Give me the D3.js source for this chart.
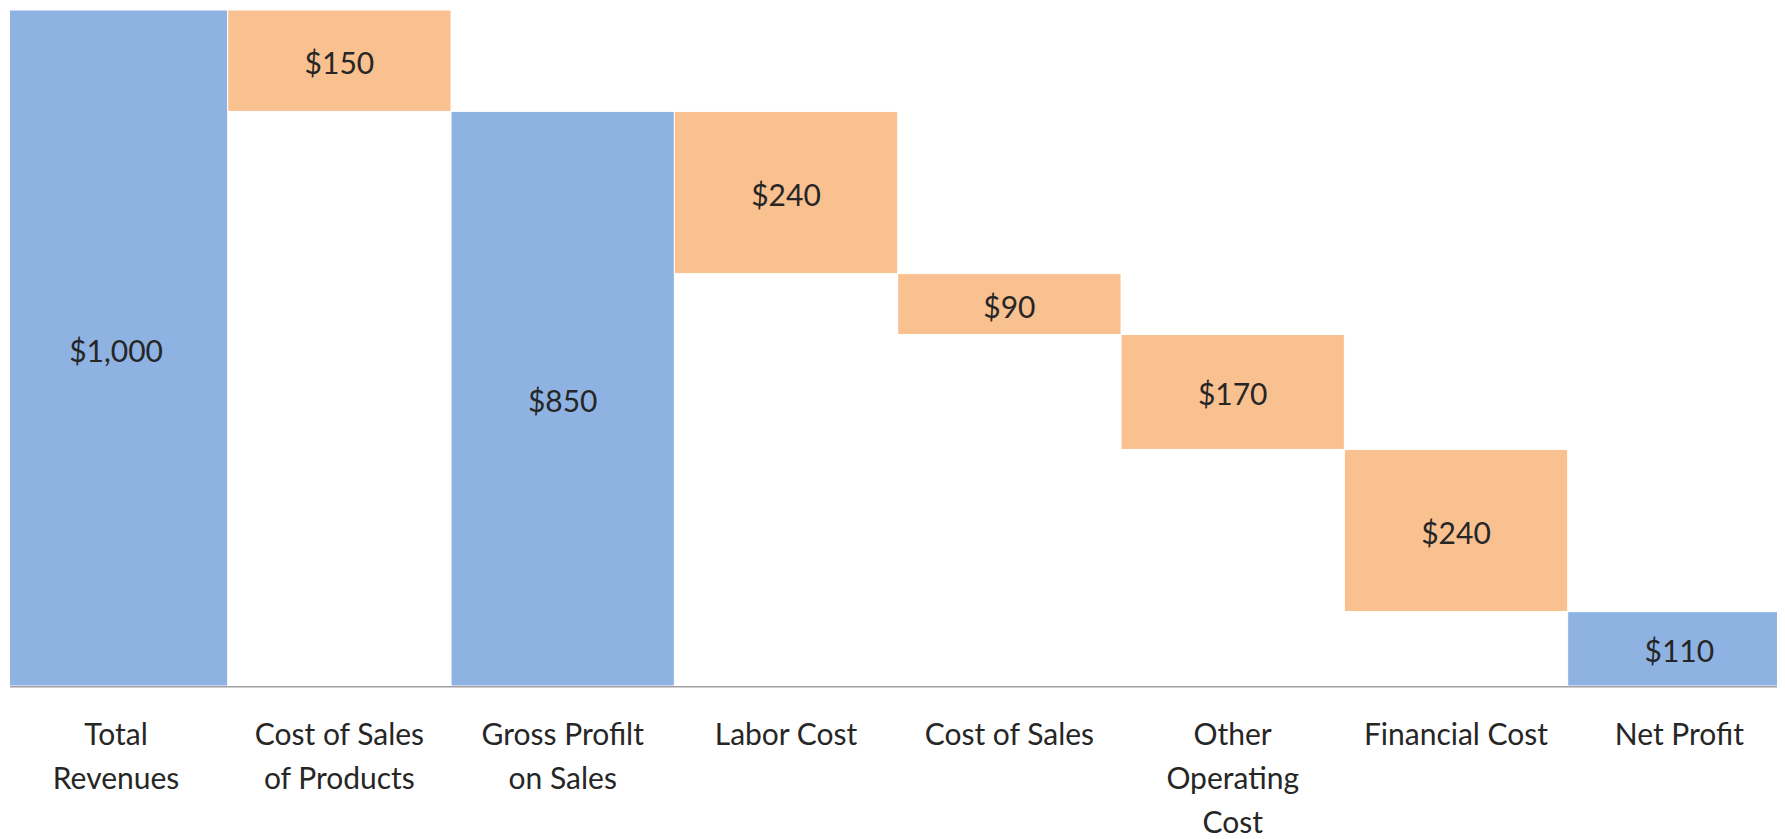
<!DOCTYPE html>
<html>
<head>
<meta charset="utf-8">
<script src="https://cdn.jsdelivr.net/npm/d3@7"></script>
<style>
  body { margin: 0; background: #fff; }
  svg text { font-family: Lato, "Open Sans", sans-serif; fill: #262626; }
</style>
</head>
<body>
<svg id="chart" width="1785" height="839"></svg>
<script>
// waterfall data
var categories = ["Total Revenues", "Cost of Sales of Products", "Gross Profilt on Sales", "Labor Cost",
                  "Cost of Sales", "Other Operating Cost", "Financial Cost", "Net Profit"];
var tickLabels = [["Total", "Revenues"], ["Cost of Sales", "of Products"], ["Gross Profilt", "on Sales"], ["Labor Cost"],
                  ["Cost of Sales"], ["Other", "Operating", "Cost"], ["Financial Cost"], ["Net Profit"]];
var values = [1000, 150, 850, 240, 90, 170, 240, 110];
var kinds  = ["total", "down", "total", "down", "down", "down", "down", "total"];

var svg = d3.select("#chart");
/* the picture is a crop: outer bars run a little past the visible area */
var bandLeft = 4.4, bandRight = 1791, plotTop = 10, plotBottom = 686;
var viewLeft = 10, viewRight = 1777;

svg.append("defs").append("clipPath").attr("id", "view")
  .append("rect").attr("x", viewLeft).attr("y", 0)
  .attr("width", viewRight - viewLeft).attr("height", 839);

/* work out start/end of each floating bar */
var running = 0;
var bars = categories.map(function(c, i) {
  var d = {name: c, value: values[i], kind: kinds[i], label: tickLabels[i]};
  if (d.kind == "total") { d.y0 = 0; d.y1 = d.value; running = d.value; }
  else { d.y1 = running; d.y0 = running - d.value; running = d.y0; }
  return d;
});

var x = d3.scaleBand().domain(categories).range([bandLeft, bandRight]).padding(0);
var y = d3.scaleLinear().domain([0, 1000]).range([plotBottom, plotTop]);

svg.append("g").attr("clip-path", "url(#view)")
  .selectAll("rect.bar").data(bars).enter().append("rect")
  .attr("class", "bar")
  .attr("x", function(d) { return x(d.name); })
  .attr("width", x.bandwidth())
  .attr("y", function(d) { return y(d.y1); })
  .attr("height", function(d) { return y(d.y0) - y(d.y1); })
  .attr("fill", function(d) { return d.kind == "total" ? "#8EB3E2" : "#F9C090"; })
  .attr("stroke", "#fff").attr("stroke-width", 1);

svg.selectAll("text.val").data(bars).enter().append("text")
  .attr("class", "val")
  .attr("x", function(d) { return x(d.name) + x.bandwidth() / 2; })
  .attr("y", function(d) { return (y(d.y0) + y(d.y1)) / 2 + 3; })
  .attr("dy", "0.35em")
  .attr("text-anchor", "middle")
  .style("font-size", "30px")
  .text(function(d) { return "$" + d3.format(",")(d.value); });

/* x axis, labels split into lines */
var axis = svg.append("g").attr("transform", "translate(0," + plotBottom + ")")
  .call(d3.axisBottom(x).tickSize(0).tickSizeOuter(0).tickFormat(""));
axis.select(".domain").attr("stroke", "#a0a0a0").attr("stroke-width", 2)
  .attr("clip-path", "url(#view)");

axis.selectAll(".tick text").each(function(c, i) {
  var t = d3.select(this).attr("y", 0).attr("dy", null)
    .style("font-size", "30px").attr("fill", "#262626");
  tickLabels[i].forEach(function(line, j) {
    t.append("tspan").attr("x", 0).attr("y", 59 + j * 44).text(line);
  });
});
</script>
</body>
</html>
